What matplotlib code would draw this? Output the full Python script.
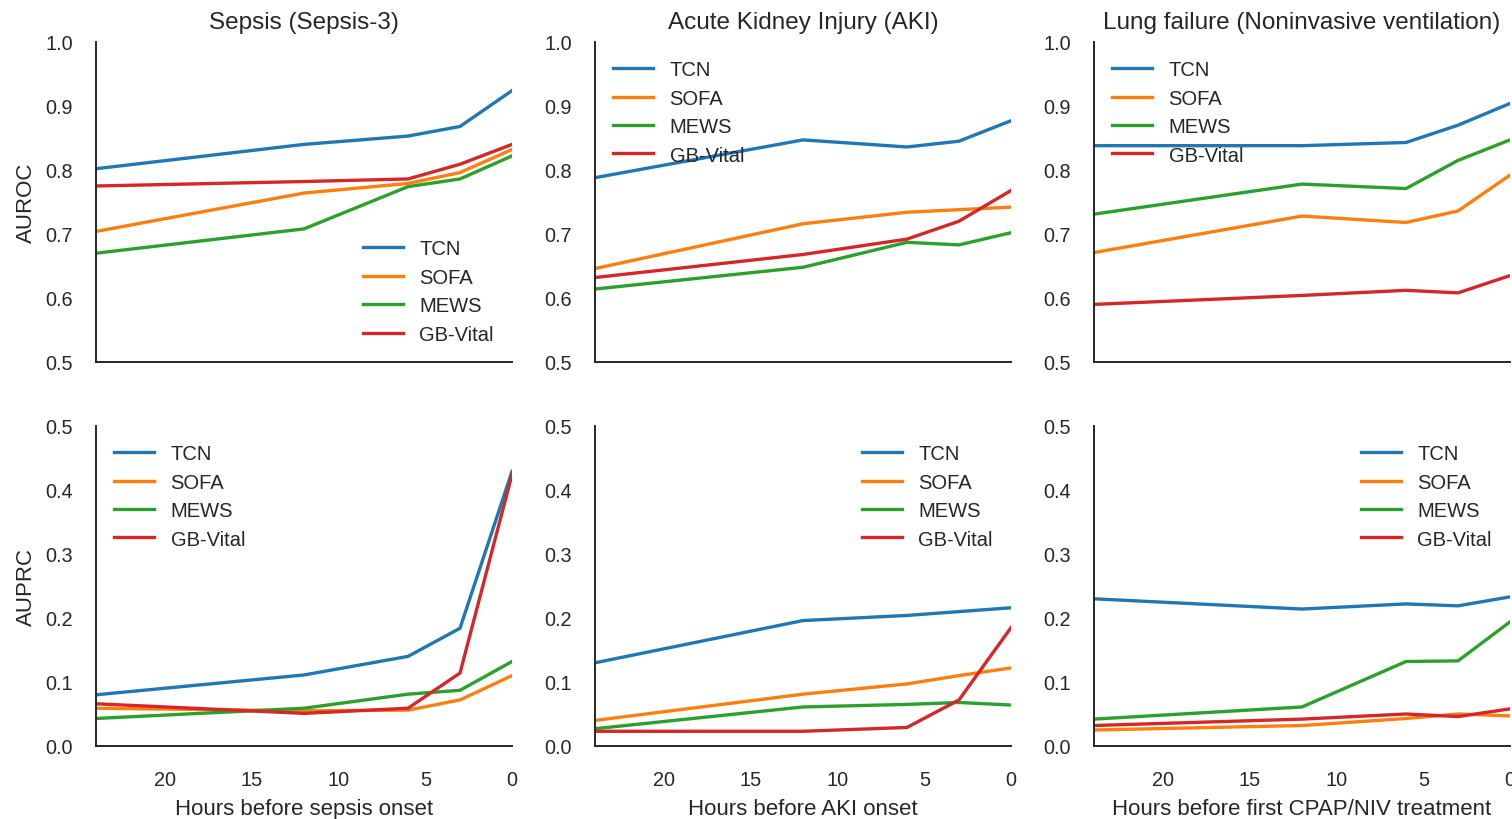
import matplotlib
matplotlib.use("Agg")
import matplotlib.pyplot as plt

hours = [24, 12, 6, 3, 0]
models = ["TCN", "SOFA", "MEWS", "GB-Vital"]
colors = ["#1f77b4", "#ff7f0e", "#2ca02c", "#d62728"]

titles = ["Sepsis (Sepsis-3)", "Acute Kidney Injury (AKI)", "Lung failure (Noninvasive ventilation)"]
xlabels = ["Hours before sepsis onset", "Hours before AKI onset", "Hours before first CPAP/NIV treatment"]

# AUROC
sepsis_auroc_tcn = [0.802, 0.840, 0.853, 0.868, 0.924]
sepsis_auroc_sofa = [0.704, 0.764, 0.779, 0.796, 0.832]
sepsis_auroc_mews = [0.670, 0.708, 0.774, 0.786, 0.822]
sepsis_auroc_gb = [0.775, 0.782, 0.786, 0.809, 0.840]

aki_auroc_tcn = [0.788, 0.847, 0.836, 0.845, 0.877]
aki_auroc_sofa = [0.646, 0.716, 0.734, 0.738, 0.742]
aki_auroc_mews = [0.614, 0.648, 0.687, 0.683, 0.702]
aki_auroc_gb = [0.632, 0.668, 0.692, 0.720, 0.768]

lung_auroc_tcn = [0.838, 0.838, 0.843, 0.870, 0.904]
lung_auroc_sofa = [0.671, 0.728, 0.718, 0.736, 0.792]
lung_auroc_mews = [0.731, 0.778, 0.771, 0.815, 0.847]
lung_auroc_gb = [0.590, 0.604, 0.612, 0.608, 0.635]

# AUPRC
sepsis_auprc_tcn = [0.080, 0.111, 0.140, 0.184, 0.429]
sepsis_auprc_sofa = [0.059, 0.055, 0.056, 0.072, 0.110]
sepsis_auprc_mews = [0.043, 0.059, 0.081, 0.087, 0.132]
sepsis_auprc_gb = [0.066, 0.051, 0.059, 0.114, 0.424]

aki_auprc_tcn = [0.130, 0.196, 0.204, 0.210, 0.216]
aki_auprc_sofa = [0.040, 0.081, 0.097, 0.110, 0.122]
aki_auprc_mews = [0.027, 0.061, 0.065, 0.068, 0.064]
aki_auprc_gb = [0.023, 0.023, 0.029, 0.072, 0.185]

lung_auprc_tcn = [0.230, 0.214, 0.222, 0.219, 0.233]
lung_auprc_sofa = [0.025, 0.032, 0.043, 0.050, 0.047]
lung_auprc_mews = [0.042, 0.061, 0.132, 0.133, 0.194]
lung_auprc_gb = [0.032, 0.042, 0.050, 0.046, 0.058]

auroc = [
    [sepsis_auroc_tcn, sepsis_auroc_sofa, sepsis_auroc_mews, sepsis_auroc_gb],
    [aki_auroc_tcn, aki_auroc_sofa, aki_auroc_mews, aki_auroc_gb],
    [lung_auroc_tcn, lung_auroc_sofa, lung_auroc_mews, lung_auroc_gb],
]
auprc = [
    [sepsis_auprc_tcn, sepsis_auprc_sofa, sepsis_auprc_mews, sepsis_auprc_gb],
    [aki_auprc_tcn, aki_auprc_sofa, aki_auprc_mews, aki_auprc_gb],
    [lung_auprc_tcn, lung_auprc_sofa, lung_auprc_mews, lung_auprc_gb],
]
auroc_legend_loc = ["lower right", "upper left", "upper left"]
auprc_legend_loc = ["upper left", "upper right", "upper right"]

plt.rcParams["font.family"] = ["Liberation Sans", "DejaVu Sans"]
dark = "#262626"
plt.rcParams["text.color"] = dark
plt.rcParams["axes.labelcolor"] = dark
plt.rcParams["xtick.color"] = dark
plt.rcParams["ytick.color"] = dark

fig = plt.figure(figsize=(15.12, 8.2), dpi=100)
W, H = 1512.0, 820.0
col_left = [96, 595, 1094]
ax_w = 416
rows = [(43, 363), (427, 747)]

for r, (data, ylim, ylab, locs) in enumerate([
    (auroc, (0.5, 1.0), "AUROC", auroc_legend_loc),
    (auprc, (0.0, 0.5), "AUPRC", auprc_legend_loc),
]):
    top, bottom = rows[r]
    for c in range(3):
        ax = fig.add_axes([col_left[c] / W, 1 - bottom / H, ax_w / W, (bottom - top) / H])
        for m, name in enumerate(models):
            ax.plot(hours, data[c][m], color=colors[m], lw=2.4, label=name)
        ax.set_xlim(24, 0)
        ax.set_ylim(*ylim)
        ax.set_xticks([20, 15, 10, 5, 0])
        ax.set_yticks([ylim[0] + 0.1 * k for k in range(6)])
        ax.set_yticklabels([f"{ylim[0] + 0.1 * k:.1f}" for k in range(6)])
        for s in ["top", "right"]:
            ax.spines[s].set_visible(False)
        for s in ["left", "bottom"]:
            ax.spines[s].set_color(dark)
            ax.spines[s].set_linewidth(1.4)
        ax.tick_params(axis="both", length=0, labelsize=14.3)
        ax.tick_params(axis="y", pad=16.5)
        ax.tick_params(axis="x", pad=17)
        if r == 0:
            ax.set_xticklabels([])
            ax.set_title(titles[c], fontsize=17.5, pad=10)
        else:
            ax.set_xlabel(xlabels[c], fontsize=16, labelpad=7)
        if c == 0:
            ax.set_ylabel(ylab, fontsize=16, labelpad=6)
        ax.legend(loc=locs[c], frameon=False, fontsize=14.5, labelspacing=0.47,
                  handlelength=2.0, handletextpad=0.8)

fig.savefig("out.png", dpi=100)
